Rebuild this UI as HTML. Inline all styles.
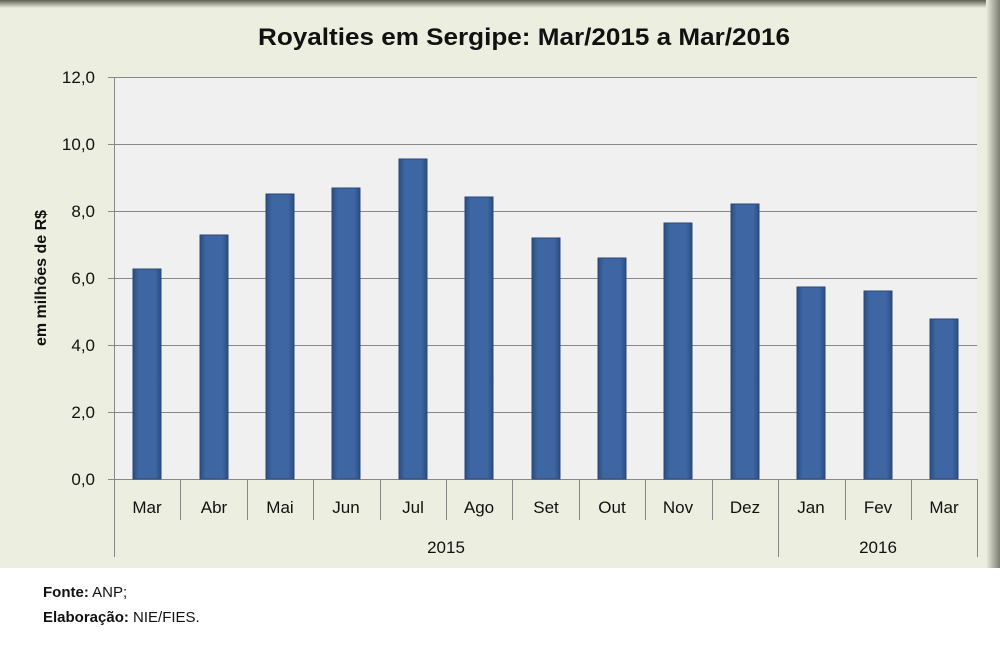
<!DOCTYPE html>
<html><head><meta charset="utf-8"><style>
body{margin:0;width:1000px;height:640px;background:#fff;overflow:hidden;font-family:"Liberation Sans",sans-serif}
</style></head><body>
<svg width="1000" height="640" xmlns="http://www.w3.org/2000/svg" font-family="Liberation Sans, sans-serif">
<defs>
<linearGradient id="top" x1="0" y1="0" x2="0" y2="1"><stop offset="0" stop-color="#5c6050"/><stop offset="1" stop-color="#eceedf"/></linearGradient>
<linearGradient id="rt" x1="0" y1="0" x2="1" y2="0"><stop offset="0" stop-color="#eceedf"/><stop offset="1" stop-color="#7a7d70"/></linearGradient>
<linearGradient id="bar" x1="0" y1="0" x2="1" y2="0"><stop offset="0" stop-color="#2c4d80"/><stop offset="0.2" stop-color="#3d66a3"/><stop offset="0.8" stop-color="#3d66a3"/><stop offset="1" stop-color="#2c4d80"/></linearGradient>
</defs>
<rect x="0" y="0" width="1000" height="568" fill="#eceedf"/>
<rect x="0" y="0" width="1000" height="8" fill="url(#top)"/>
<rect x="986" y="0" width="14" height="568" fill="url(#rt)"/>
<text x="524" y="45" text-anchor="middle" font-size="24" font-weight="bold" fill="#111" textLength="532" lengthAdjust="spacingAndGlyphs">Royalties em Sergipe: Mar/2015 a Mar/2016</text>
<rect x="114" y="77" width="863" height="402" fill="#f0f0f0"/>
<g stroke="#888" stroke-width="1">
<line x1="108" y1="77.5" x2="977" y2="77.5"/>
<line x1="108" y1="144.5" x2="977" y2="144.5"/>
<line x1="108" y1="211.5" x2="977" y2="211.5"/>
<line x1="108" y1="278.5" x2="977" y2="278.5"/>
<line x1="108" y1="345.5" x2="977" y2="345.5"/>
<line x1="108" y1="412.5" x2="977" y2="412.5"/>
<line x1="108" y1="479.5" x2="977" y2="479.5"/>
<line x1="114.5" y1="77" x2="114.5" y2="557"/>
<line x1="977.5" y1="479" x2="977.5" y2="557"/>
<line x1="778.5" y1="479" x2="778.5" y2="557"/>
</g>
<g stroke="#888">
<line x1="180.5" y1="479" x2="180.5" y2="520"/><line x1="247.5" y1="479" x2="247.5" y2="520"/><line x1="313.5" y1="479" x2="313.5" y2="520"/><line x1="380.5" y1="479" x2="380.5" y2="520"/><line x1="446.5" y1="479" x2="446.5" y2="520"/><line x1="512.5" y1="479" x2="512.5" y2="520"/><line x1="579.5" y1="479" x2="579.5" y2="520"/><line x1="645.5" y1="479" x2="645.5" y2="520"/><line x1="712.5" y1="479" x2="712.5" y2="520"/><line x1="845.5" y1="479" x2="845.5" y2="520"/><line x1="911.5" y1="479" x2="911.5" y2="520"/>
</g>
<g font-size="17" fill="#111" text-anchor="end">
<text x="95" y="83">12,0</text><text x="95" y="150">10,0</text><text x="95" y="217">8,0</text><text x="95" y="284">6,0</text><text x="95" y="351">4,0</text><text x="95" y="418">2,0</text><text x="95" y="485">0,0</text>
</g>
<text transform="translate(46,278) rotate(-90)" text-anchor="middle" font-size="16" font-weight="bold" fill="#111">em milhões  de R$</text>
<g fill="url(#bar)" stroke="#2a4878" stroke-width="1">
<rect x="133" y="269" width="28" height="210"/>
<rect x="200" y="235" width="28" height="244"/>
<rect x="266" y="194" width="28" height="285"/>
<rect x="332" y="188" width="28" height="291"/>
<rect x="399" y="159" width="28" height="320"/>
<rect x="465" y="197" width="28" height="282"/>
<rect x="532" y="238" width="28" height="241"/>
<rect x="598" y="258" width="28" height="221"/>
<rect x="664" y="223" width="28" height="256"/>
<rect x="731" y="204" width="28" height="275"/>
<rect x="797" y="287" width="28" height="192"/>
<rect x="864" y="291" width="28" height="188"/>
<rect x="930" y="319" width="28" height="160"/>
</g>
<g font-size="17" fill="#111" text-anchor="middle">
<text x="147" y="513">Mar</text><text x="214" y="513">Abr</text><text x="280" y="513">Mai</text><text x="346" y="513">Jun</text><text x="413" y="513">Jul</text><text x="479" y="513">Ago</text><text x="546" y="513">Set</text><text x="612" y="513">Out</text><text x="678" y="513">Nov</text><text x="745" y="513">Dez</text><text x="811" y="513">Jan</text><text x="878" y="513">Fev</text><text x="944" y="513">Mar</text>
<text x="446" y="553">2015</text><text x="878" y="553">2016</text>
</g>
<text x="43" y="597" font-size="15" fill="#111"><tspan font-weight="bold">Fonte:</tspan> ANP;</text>
<text x="43" y="622" font-size="15" fill="#111"><tspan font-weight="bold">Elaboração:</tspan> NIE/FIES.</text>
</svg>
</body></html>
